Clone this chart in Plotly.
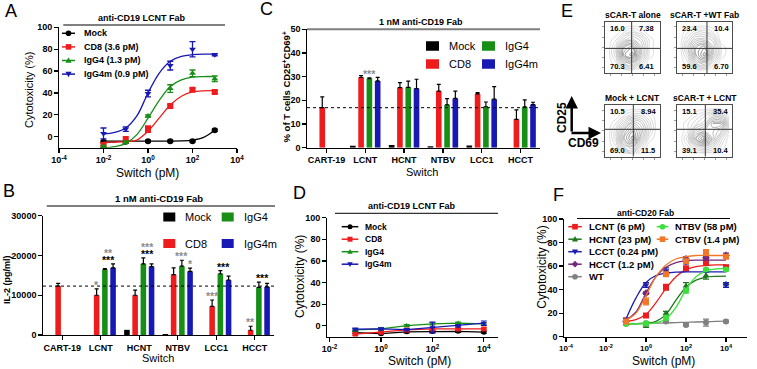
import plotly.graph_objects as go

W, H = 757, 369
FONT = "Arial, 'Liberation Sans', sans-serif"


def fx(px):
    return px / W


def fy(py):
    return 1 - py / H


# ---------------- colours ----------------
C_MOCK = "#000000"
C_CD8 = "#ee1c1c"
C_IGG4 = "#178f17"
C_IGG4M = "#1818b4"
GREY_STAR = "#8c8c8c"

# ---------------- Panel A data ----------------
a_x = [0.01, 0.1, 1, 10, 100, 1000]
a_mock = [-4.5, -4.5, -4, -4, -4, 6]
a_cd8 = [-7.5, -3, 7, 28, 43, 41]
a_igg4 = [-9, -5, 19, 44, 58, 53]
a_igg4m = [3, 7, 39.5, 65, 80, 75]
a_mock_err = [0.8, 0.8, 0.8, 0.8, 0.8, 1]
a_cd8_err = [2, 3, 3, 1.5, 1.5, 1.5]
a_igg4_err = [1, 1, 1, 3.5, 3, 2.5]
a_igg4m_err = [5, 2, 3, 4, 7, 1]
a_fit_x = [0.01, 0.0316, 0.1, 0.316, 1, 3.16, 10, 31.6, 100, 316, 1000]
a_fit_mock = [-4, -4, -4, -4, -4, -4, -4, -3.8, -3, -0.5, 6]
a_fit_cd8 = [-5, -5, -4.5, -3, 5, 17, 29, 37, 41, 42, 42]
a_fit_igg4 = [-10, -9, -6, 2, 17, 33, 46, 52, 54.5, 55, 55]
a_fit_igg4m = [2.5, 4, 8, 19, 40, 58, 69, 73.5, 75, 75.5, 75.5]
a_labels = ["Mock", "CD8 (3.6 pM)", "IgG4 (1.3 pM)", "IgG4m (0.9 pM)"]

# ---------------- Panel B / C data ----------------
bc_switch = ["CART-19", "LCNT", "HCNT", "NTBV", "LCC1", "HCCT"]
bc_names = ["Mock", "CD8", "IgG4", "IgG4m"]

b_mock = [None, 0, 1300, 250, 0, 0]
b_cd8 = [12300, 10000, 10000, 15200, 7200, 1200]
b_cd8_err = [700, 1600, 1300, 1700, 1600, 1000]
b_igg4 = [None, 16500, 17900, 17300, 15400, 12000]
b_igg4_err = [0, 200, 1500, 1500, 800, 1300]
b_igg4m = [None, 16900, 17200, 16000, 13800, 12100]
b_igg4m_err = [0, 1000, 700, 800, 1000, 900]
b_yticks = [0, 10000, 20000, 30000]

c_mock = [None, 0.8, 1.1, 0.6, 0.9, 0]
c_cd8 = [16.9, 29.7, 25.4, 23.9, 22.7, 12.0]
c_cd8_err = [4.6, 0.8, 2.1, 2.8, 0.6, 4.0]
c_igg4 = [None, 29.2, 25.5, 18.1, 17.3, 17.2]
c_igg4_err = [0, 0.3, 2.6, 2.6, 2.0, 3.0]
c_igg4m = [None, 28.2, 25.0, 20.8, 20.5, 18.2]
c_igg4m_err = [0, 1.5, 3.9, 3.1, 5.3, 1.0]

# significance marks: (switch, series above which it sits, x offset, text, colour, stack level)
b_stars = [
    ("LCNT", ["IgG4", "IgG4m"], 0.21, "***", "black", 0),
    ("LCNT", ["IgG4", "IgG4m"], 0.21, "**", "grey", 1),
    ("LCNT", ["CD8"], -0.107, "*", "grey", 0),
    ("HCNT", ["IgG4", "IgG4m"], 0.21, "***", "black", 0),
    ("HCNT", ["IgG4", "IgG4m"], 0.21, "***", "grey", 1),
    ("NTBV", ["IgG4"], 0.107, "***", "grey", 0),
    ("NTBV", ["IgG4m"], 0.32, "*", "grey", 0),
    ("LCC1", ["CD8"], -0.107, "***", "grey", 0),
    ("LCC1", ["IgG4"], 0.2, "***", "black", 0),
    ("HCCT", ["CD8"], -0.107, "**", "grey", 0),
    ("HCCT", ["IgG4", "IgG4m"], 0.21, "***", "black", 0),
]
c_stars = [("LCNT", ["IgG4"], 0.107, "***", "grey", 0)]

# ---------------- Panel D data ----------------
d_x = [0.1, 1, 10, 100, 1000, 10000]
d_mock = [-6.2, -7.2, -5.5, -5.2, -5, -5.8]
d_cd8 = [-7.7, -5.8, -3.7, -2.8, -2.8, -2.8]
d_igg4 = [-3.7, -2.8, 0.3, 1.8, 2.5, 1.8]
d_igg4m = [-3, -2.8, -3.5, -1.5, 0, 2.5]
d_mock_err = [1, 1, 1, 1, 1, 1]
d_cd8_err = [1, 1, 1, 1, 1, 1]
d_igg4_err = [1, 1, 1, 1, 1, 1]
d_igg4m_err = [1, 1, 1, 5, 1, 2]
d_labels = ["Mock", "CD8", "IgG4", "IgG4m"]

# ---------------- Panel F data ----------------
f_x = [0.1, 1, 10, 100, 1000, 10000]
f_names = ["LCNT (6 pM)", "HCNT (23 pM)", "LCCT (0.24 pM)", "HCCT (1.2 pM)",
           "WT", "NTBV (58 pM)", "CTBV (1.4 pM)"]
f_colors = ["#ee1c1c", "#1c7a1c", "#1c1cb0", "#74287f", "#808080", "#3be03b", "#f07828"]
f_symbols = ["square", "triangle-up", "triangle-down", "diamond", "circle", "circle", "square"]
f_vals = [
    [14, 18, 42, 58, 63.5, 59],
    [11, 10, 20, 43, 52, 45],
    [14, 44, 56, 63, 56, 44],
    [13, 37, 54, 66, 67, 69],
    [11, 11.5, 13, 10, 12, 13],
    [11, 11.5, 16, 39, 57, 57],
    [13, 30, 53, 64, 72, 68],
]
f_errs = [
    [1, 1, 2.5, 2, 2, 1.5],
    [1, 2, 1.5, 3, 3, 1],
    [1, 2, 2.5, 1, 1, 2],
    [1, 1, 1, 2, 1, 2],
    [1, 1, 1, 1, 3, 1],
    [1, 1, 2, 2, 1, 1],
    [1, 3, 1, 1, 1, 1],
]
f_fit_x = [0.1, 0.316, 1, 3.16, 10, 31.6, 100, 316, 1000, 3162, 10000]
f_fits = [
    [13, 14.5, 19, 29, 41, 51, 57, 59.5, 60.5, 61, 61],
    [11, 11, 11.5, 13, 19, 31, 42, 48, 50.5, 51.3, 51.5],
    [15, 33, 46, 52, 54, 54.8, 55, 55, 55, 55, 55],
    [14, 21, 37, 51, 59, 63, 64.5, 65, 65, 65, 65],
    [11, 11.1, 11.3, 11.5, 11.7, 12, 12.2, 12.5, 12.7, 13, 13.2],
    [11, 11, 11, 11.8, 15, 25, 40, 51, 56, 57.5, 58],
    [14, 20, 35, 51, 61, 66, 68, 69, 69, 69, 69],
]

# ---------------- Panel E data ----------------
e_titles = ["sCAR-T alone", "sCAR-T +WT Fab", "Mock + LCNT", "sCAR-T + LCNT"]
e_quads = [["16.0", "7.38", "70.3", "6.41"],
           ["23.4", "10.4", "59.6", "6.70"],
           ["10.5", "8.94", "69.0", "11.5"],
           ["15.1", "35.4", "39.1", "10.4"]]
e_qx = [0.485, 0.545, 0.515, 0.515]
e_qy = [0.48, 0.48, 0.53, 0.53]
e_grid = [0.05, 0.2, 0.35, 0.5, 0.65, 0.8, 0.95]
e_z = [
    [[0, 0, 1, 2, 1, 0, 0], [0, 1, 4, 5, 2, 0, 0], [0, 2, 7, 8, 4, 1, 0], [0, 2, 6, 7, 4, 1, 0],
     [0, 1, 3, 4, 3, 1, 0], [0, 0, 1, 2, 1, 0, 0], [0, 0, 0, 0, 0, 0, 0]],
    [[0, 0, 1, 2, 1, 0, 0], [0, 1, 4, 5, 2, 0, 0], [0, 2, 6, 8, 4, 1, 0], [0, 3, 6, 7, 4, 1, 0],
     [0, 2, 4, 4, 3, 0, 0], [0, 1, 2, 2, 1, 0, 0], [0, 0, 0, 0, 0, 0, 0]],
    [[0, 0, 1, 3, 1, 0, 0], [0, 1, 4, 5, 2, 0, 0], [0, 2, 6, 8, 4, 1, 0], [0, 2, 5, 7, 5, 2, 0],
     [0, 1, 3, 5, 4, 2, 0], [0, 0, 1, 2, 2, 1, 0], [0, 0, 0, 0, 0, 0, 0]],
    [[0, 0, 1, 1, 1, 0, 0], [0, 1, 3, 4, 3, 1, 0], [0, 2, 6, 8, 5, 2, 0], [0, 1, 4, 5, 5, 4, 1],
     [0, 1, 2, 3, 6, 6, 1], [0, 0, 1, 2, 3, 3, 0], [0, 0, 0, 0, 0, 0, 0]],
]

fig = go.Figure()

# ================= Panel A =================
a_series = [(a_mock, a_mock_err, a_fit_mock, C_MOCK, "circle"),
            (a_cd8, a_cd8_err, a_fit_cd8, C_CD8, "square"),
            (a_igg4, a_igg4_err, a_fit_igg4, C_IGG4, "triangle-up"),
            (a_igg4m, a_igg4m_err, a_fit_igg4m, C_IGG4M, "triangle-down")]
for vals, err, fit, col, sym in a_series:
    fig.add_trace(go.Scatter(x=a_fit_x, y=fit, mode="lines",
                             line=dict(color=col, width=1.3, shape="spline", smoothing=1),
                             xaxis="x", yaxis="y", hoverinfo="skip"))
    fig.add_trace(go.Scatter(x=a_x, y=vals, mode="markers",
                             marker=dict(symbol=sym, size=6, color=col),
                             error_y=dict(type="data", array=err, color=col, thickness=1.3, width=3),
                             xaxis="x", yaxis="y"))

# ================= Panels B and C (bars) =================
bar_centers = {"Mock": -0.32, "CD8": -0.107, "IgG4": 0.107, "IgG4m": 0.32}
bar_w = 0.145
bar_cols = {"Mock": C_MOCK, "CD8": C_CD8, "IgG4": C_IGG4, "IgG4m": C_IGG4M}

b_data = {"Mock": (b_mock, None), "CD8": (b_cd8, b_cd8_err),
          "IgG4": (b_igg4, b_igg4_err), "IgG4m": (b_igg4m, b_igg4m_err)}
c_data = {"Mock": (c_mock, None), "CD8": (c_cd8, c_cd8_err),
          "IgG4": (c_igg4, c_igg4_err), "IgG4m": (c_igg4m, c_igg4m_err)}

for data, xa, ya in [(b_data, "x2", "y2"), (c_data, "x3", "y3")]:
    for name in bc_names:
        vals, err = data[name]
        if err is None:
            ey = dict(visible=False)
        else:
            ey = dict(type="data", array=err, arrayminus=[0] * len(err), symmetric=False,
                      color="black", thickness=1.2, width=2)
        fig.add_trace(go.Bar(x=bc_switch, y=vals, width=bar_w,
                             offset=bar_centers[name] - bar_w / 2,
                             marker=dict(color=bar_cols[name], line=dict(width=0)),
                             error_y=ey, xaxis=xa, yaxis=ya))

# ================= Panel D =================
d_series = [(d_mock, d_mock_err, C_MOCK, "circle"),
            (d_cd8, d_cd8_err, C_CD8, "square"),
            (d_igg4, d_igg4_err, C_IGG4, "triangle-up"),
            (d_igg4m, d_igg4m_err, C_IGG4M, "triangle-down")]
for vals, err, col, sym in d_series:
    fig.add_trace(go.Scatter(x=d_x, y=vals, mode="lines+markers",
                             line=dict(color=col, width=1.3),
                             marker=dict(symbol=sym, size=5, color=col),
                             error_y=dict(type="data", array=err, color=col, thickness=1.2, width=3),
                             xaxis="x4", yaxis="y4"))

# ================= Panel F =================
for vals, err, fit, col, sym in zip(f_vals, f_errs, f_fits, f_colors, f_symbols):
    fig.add_trace(go.Scatter(x=f_fit_x, y=fit, mode="lines",
                             line=dict(color=col, width=1.3, shape="spline", smoothing=1),
                             xaxis="x5", yaxis="y5", hoverinfo="skip"))
    fig.add_trace(go.Scatter(x=f_x, y=vals, mode="markers",
                             marker=dict(symbol=sym, size=6, color=col),
                             error_y=dict(type="data", array=err, color=col, thickness=1.3, width=3),
                             xaxis="x5", yaxis="y5"))

# ================= Panel E (flow plots) =================
for k in range(4):
    xa, ya = f"x{6 + k}", f"y{6 + k}"
    fig.add_trace(go.Contour(x=e_grid, y=e_grid, z=e_z[k],
                             contours=dict(coloring="lines", start=0.5, end=8.5, size=0.55),
                             line=dict(width=0.6, smoothing=1.3),
                             colorscale=[[0, "#c8c8c8"], [0.6, "#8a8a8a"], [1, "#2e2e2e"]],
                             showscale=False, xaxis=xa, yaxis=ya, hoverinfo="skip"))

# ================= Layout / axes =================
tickfont = dict(family=FONT, size=9, color="black", weight="bold")


def base_axis(**kw):
    d = dict(showline=True, linecolor="black", linewidth=1.3, ticks="outside", ticklen=3.5,
             tickwidth=1.2, tickcolor="black", showgrid=False, zeroline=False,
             tickfont=tickfont, fixedrange=True, automargin=False)
    d.update(kw)
    return d


def sup_labels(exps):
    return [f"10<sup>{e}</sup>" for e in exps]


layout_axes = dict(
    xaxis=base_axis(domain=[fx(59), fx(237)], anchor="y", type="log", range=[-4, 4],
                    tickvals=[1e-4, 1e-2, 1, 1e2, 1e4], ticktext=sup_labels([-4, -2, 0, 2, 4])),
    yaxis=base_axis(domain=[fy(147.7), fy(27.3)], anchor="x", range=[-10, 100],
                    tickvals=[0, 20, 40, 60, 80, 100]),
    xaxis2=base_axis(domain=[fx(43), fx(274)], anchor="y2", type="category",
                     categoryorder="array", categoryarray=bc_switch, range=[-0.5, 5.5]),
    yaxis2=base_axis(domain=[fy(335), fy(215.7)], anchor="x2", range=[0, 30000],
                     tickvals=b_yticks, ticktext=[str(v) for v in b_yticks]),
    xaxis3=base_axis(domain=[fx(307), fx(540)], anchor="y3", type="category",
                     categoryorder="array", categoryarray=bc_switch, range=[-0.5, 5.5]),
    yaxis3=base_axis(domain=[fy(147.7), fy(29.3)], anchor="x3", range=[0, 50],
                     tickvals=[0, 10, 20, 30, 40, 50]),
    xaxis4=base_axis(domain=[fx(327), fx(498)], anchor="y4", type="log", range=[-2.1, 4.55],
                     tickvals=[1e-2, 1, 1e2, 1e4], ticktext=sup_labels([-2, 0, 2, 4])),
    yaxis4=base_axis(domain=[fy(336.7), fy(217.7)], anchor="x4", range=[-10, 100],
                     tickvals=[0, 20, 40, 60, 80, 100]),
    xaxis5=base_axis(domain=[fx(564), fx(747)], anchor="y5", type="log", range=[-4.1, 5.05],
                     tickvals=[1e-4, 1e-2, 1, 1e2, 1e4], ticktext=sup_labels([-4, -2, 0, 2, 4]),
                     tickfont=dict(family=FONT, size=8, color="black", weight="bold")),
    yaxis5=base_axis(domain=[fy(336.7), fy(219)], anchor="x5", range=[0, 100],
                     tickvals=[0, 20, 40, 60, 80, 100]),
)

e_boxes = [(605, 660, 21.7, 73), (677, 732, 21.7, 73), (605, 660, 105, 156.7), (677, 732, 105, 156.7)]
for k, (x0, x1, y0, y1) in enumerate(e_boxes):
    eax = dict(showline=True, mirror=True, linecolor="#222222", linewidth=0.8, ticks="outside",
               ticklen=2, tickwidth=0.6, tickcolor="#555555", tickvals=[0.1, 0.3, 0.5, 0.7, 0.9],
               showticklabels=False, showgrid=False, zeroline=False, range=[0, 1],
               fixedrange=True, automargin=False)
    layout_axes[f"xaxis{6 + k}"] = dict(eax, domain=[fx(x0), fx(x1)], anchor=f"y{6 + k}")
    layout_axes[f"yaxis{6 + k}"] = dict(eax, domain=[fy(y1), fy(y0)], anchor=f"x{6 + k}")

fig.update_layout(template="none", width=W, height=H, margin=dict(l=0, r=0, t=0, b=0, pad=0),
                  paper_bgcolor="white", plot_bgcolor="white", showlegend=False,
                  barmode="overlay", font=dict(family=FONT, color="black"), **layout_axes)

shapes = []
annotations = []


def text(x, y, s, size, bold=False, color="black", angle=0, xanchor="center", yanchor="middle"):
    annotations.append(dict(x=fx(x), y=fy(y), xref="paper", yref="paper", text=s, showarrow=False,
                            font=dict(family=FONT, size=size, color=color,
                                      weight="bold" if bold else "normal"),
                            textangle=angle, xanchor=xanchor, yanchor=yanchor))


def hline(x0, x1, y, color="black", width=1.0, dash="solid"):
    shapes.append(dict(type="line", xref="paper", yref="paper", x0=fx(x0), x1=fx(x1),
                       y0=fy(y), y1=fy(y), line=dict(color=color, width=width, dash=dash)))


def marker_shape(sym, cx, cy, r, color):
    if sym == "circle":
        shapes.append(dict(type="circle", xref="paper", yref="paper", x0=fx(cx - r), x1=fx(cx + r),
                           y0=fy(cy + r), y1=fy(cy - r), fillcolor=color, line=dict(width=0)))
        return
    if sym == "square":
        pts = [(cx - r, cy - r), (cx + r, cy - r), (cx + r, cy + r), (cx - r, cy + r)]
    elif sym == "triangle-up":
        pts = [(cx, cy - r * 1.1), (cx + r * 1.1, cy + r * 0.8), (cx - r * 1.1, cy + r * 0.8)]
    elif sym == "triangle-down":
        pts = [(cx, cy + r * 1.1), (cx + r * 1.1, cy - r * 0.8), (cx - r * 1.1, cy - r * 0.8)]
    else:
        pts = [(cx, cy - r * 1.2), (cx + r * 1.2, cy), (cx, cy + r * 1.2), (cx - r * 1.2, cy)]
    path = "M" + " L".join(f"{fx(px):.5f},{fy(py):.5f}" for px, py in pts) + " Z"
    shapes.append(dict(type="path", xref="paper", yref="paper", path=path,
                       fillcolor=color, line=dict(width=0)))


def line_legend(items, x0, x1, xt, y0, dy, size, r=2.8):
    for i, (label, col, sym) in enumerate(items):
        y = y0 + i * dy
        hline(x0, x1, y, color=col, width=1.5)
        marker_shape(sym, (x0 + x1) / 2, y, r, col)
        text(xt, y, label, size, bold=True, xanchor="left")


def bar_legend(items, col_x, rows_y, sq_w, sq_h, size):
    for i, (label, col) in enumerate(items):
        cx = col_x[i // 2]
        cy = rows_y[i % 2]
        shapes.append(dict(type="rect", xref="paper", yref="paper", x0=fx(cx), x1=fx(cx + sq_w),
                           y0=fy(cy + sq_h / 2), y1=fy(cy - sq_h / 2), fillcolor=col,
                           line=dict(width=0)))
        text(cx + sq_w + 8, cy, label, size, xanchor="left")


# panel letters
for letter, x, y in [("A", 11, 11), ("B", 9, 191), ("C", 266.5, 9), ("D", 299, 193),
                     ("E", 567, 11), ("F", 558, 195)]:
    text(x, y, letter, 18)

# panel titles + underline
text(142, 18, "anti-CD19 LCNT Fab", 9, bold=True)
hline(63.3, 225, 25)
text(159, 198, "1 nM anti-CD19 Fab", 9.5, bold=True)
hline(46.7, 275, 206)
text(420.7, 22, "1 nM anti-CD19 Fab", 9, bold=True)
hline(307, 540, 29.3, color="#7f7f7f", width=2)
text(411.7, 206, "anti-CD19 LCNT Fab", 9, bold=True)
hline(335, 498, 213.3)
text(645, 213, "anti-CD20 Fab", 8.5, bold=True)
hline(577, 730, 218.5)

# axis titles
text(29, 90, "Cytotoxicity (%)", 11, angle=-90)
text(147.5, 173, "Switch (pM)", 12)
text(7, 280, "IL-2 (pg/ml)", 9, bold=True, angle=-90)
text(158.3, 358, "Switch", 11)
text(286.5, 87, "% of T cells CD25<sup>+</sup>CD69<sup>+</sup>", 9.5, bold=True, angle=-90)
text(422.3, 172, "Switch", 11)
text(300, 277, "Cytotoxicity (%)", 12, angle=-90)
text(419, 361, "Switch (pM)", 12)
text(541.7, 267, "Cytotoxicity (%)", 12, angle=-90)
text(663.3, 361, "Switch (pM)", 12)

# legends
line_legend([(a_labels[0], C_MOCK, "circle"), (a_labels[1], C_CD8, "square"),
             (a_labels[2], C_IGG4, "triangle-up"), (a_labels[3], C_IGG4M, "triangle-down")],
            62, 75, 81.7, 33.3, 13.6, 9)
line_legend([(d_labels[0], C_MOCK, "circle"), (d_labels[1], C_CD8, "square"),
             (d_labels[2], C_IGG4, "triangle-up"), (d_labels[3], C_IGG4M, "triangle-down")],
            341.7, 358.3, 363.3, 226.7, 12.5, 8.5, r=2.5)
line_legend([(f_names[i], f_colors[i], f_symbols[i]) for i in range(5)],
            568.3, 581.7, 587.3, 226.7, 12.5, 9.5)
line_legend([(f_names[i], f_colors[i], f_symbols[i]) for i in range(5, 7)],
            656.7, 668.3, 673.3, 226.7, 12.5, 9.5)
bar_legend([("Mock", C_MOCK), ("CD8", C_CD8), ("IgG4", C_IGG4), ("IgG4m", C_IGG4M)],
           [163.3, 221.7], [217, 243.5], 12, 9, 11)
bar_legend([("Mock", C_MOCK), ("CD8", C_CD8), ("IgG4", C_IGG4), ("IgG4m", C_IGG4M)],
           [426, 482], [46, 64], 13, 9.5, 11)

# dotted reference lines (CART-19 level)
shapes.append(dict(type="line", xref="x2 domain", yref="y2", x0=0, x1=1, y0=b_cd8[0], y1=b_cd8[0],
                   line=dict(color="black", width=1, dash="dot")))
shapes.append(dict(type="line", xref="x3 domain", yref="y3", x0=0, x1=1, y0=c_cd8[0], y1=c_cd8[0],
                   line=dict(color="black", width=1, dash="dot")))


# significance stars
def add_stars(stars, data, xa, ya, unit_shift):
    for cat, series, off, s, col, level in stars:
        i = bc_switch.index(cat)
        tops = []
        for name in series:
            v, e = data[name]
            tops.append((v[i] or 0) + (e[i] if e else 0))
        annotations.append(dict(x=i + off, y=max(tops), xref=xa, yref=ya, text=s, showarrow=False,
                                xanchor="center", yanchor="bottom", yshift=-4 + level * unit_shift,
                                font=dict(family=FONT, size=10.5, weight="bold",
                                          color="black" if col == "black" else GREY_STAR)))


add_stars(b_stars, b_data, "x2", "y2", 7)
add_stars(c_stars, c_data, "x3", "y3", 7)

# Panel E decorations: quadrant gates, numbers, titles
for k, (x0, x1, y0, y1) in enumerate(e_boxes):
    xa, ya = f"x{6 + k}", f"y{6 + k}"
    shapes.append(dict(type="line", xref=xa, yref=ya, x0=e_qx[k], x1=e_qx[k], y0=0, y1=1,
                       line=dict(color="#333333", width=1)))
    shapes.append(dict(type="line", xref=xa, yref=ya, x0=0, x1=1, y0=e_qy[k], y1=e_qy[k],
                       line=dict(color="#333333", width=1)))
    qpos = [(0.05, 0.87), (e_qx[k] + 0.1, 0.87), (0.05, 0.12), (e_qx[k] + 0.1, 0.12)]
    for s, (qx, qy) in zip(e_quads[k], qpos):
        annotations.append(dict(x=qx, y=qy, xref=xa, yref=ya, text=s, showarrow=False,
                                xanchor="left", yanchor="middle",
                                font=dict(family=FONT, size=7.5, weight="bold", color="black")))
    text((x0 + x1) / 2, y0 - 7, e_titles[k], 8.5, bold=True)

# CD25 / CD69 arrows
annotations.append(dict(x=fx(571.7), y=fy(96), xref="paper", yref="paper", text="", showarrow=True,
                        ax=0, ay=37, arrowhead=2, arrowsize=1, arrowwidth=2.5, arrowcolor="black"))
annotations.append(dict(x=fx(601), y=fy(133), xref="paper", yref="paper", text="", showarrow=True,
                        ax=-31, ay=0, arrowhead=2, arrowsize=1, arrowwidth=2.5, arrowcolor="black"))
text(562, 118, "CD25", 12, bold=True, angle=-90)
text(583, 143, "CD69", 12, bold=True)

fig.update_layout(shapes=shapes, annotations=annotations)
# remove the browser's default 8px page margin so the figure sits at the window's corner
fig.write_html("out.html", config={"displayModeBar": False, "staticPlot": True},
               post_script="document.body.style.margin='0';")
